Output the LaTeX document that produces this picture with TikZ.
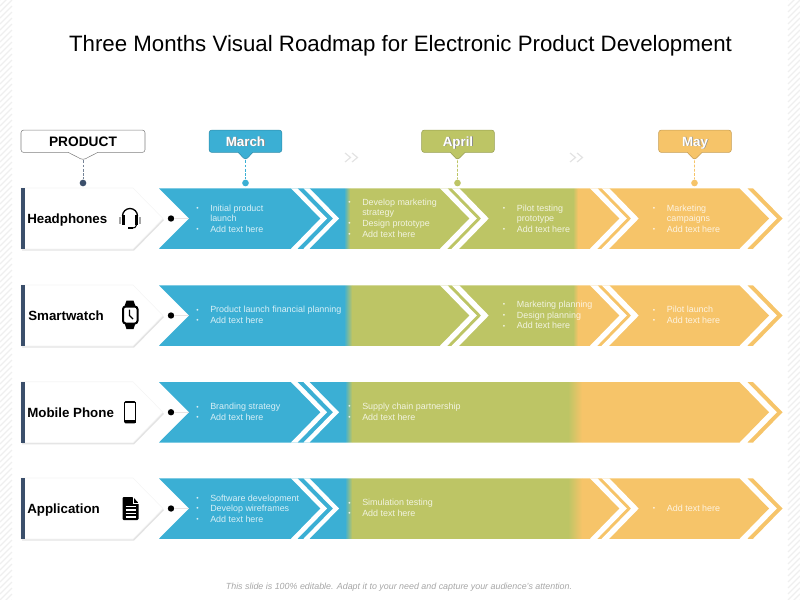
\documentclass[tikz,border=0pt]{standalone}
\usepackage{fontspec}
\setmainfont{Liberation Sans}
\usepackage{xcolor}
\usetikzlibrary{positioning,shapes.callouts,shadows,fadings}
\definecolor{bandblue}{HTML}{3BAFD4}
\definecolor{bandgreen}{HTML}{BDC565}
\definecolor{bandorange}{HTML}{F6C469}
\definecolor{barslate}{HTML}{3B4F6B}
\definecolor{hatchgray}{HTML}{EFEFEF}
\newcommand{\bul}{\makebox[10.5pt][l]{\raisebox{.6pt}{\fontsize{5}{5}\selectfont\textbullet}}}
\newcommand{\ind}{\hspace*{10.5pt}}
\newcommand{\mshadow}[1]{\rlap{\hspace{.7pt}\raisebox{-.7pt}{\color{black!45}#1}}#1}
\newcommand{\chevron}[5]{\fill[#5] (#1,#3-30.25) -- ++(#2,0) -- ++(29.5,30.25) -- ++(-29.5,30.25) -- ++(-#2,0) -- ++(29.5,-30.25) -- cycle;}
\begin{document}
\begin{tikzpicture}[x=0.75pt,y=-0.75pt,
  lst/.style={anchor=west,align=left,inner sep=0pt,text=white,text opacity=.8,font=\fontsize{6.7}{8}\selectfont},
  rowlabel/.style={anchor=base west,inner sep=0pt,font=\fontsize{10}{12}\selectfont\bfseries},
  tag/.style={rectangle callout,rounded corners=2pt,draw=#1!80!black,fill=#1,text=white,minimum width=54.5pt,minimum height=16.8pt,
              inner sep=0pt,text height=7.2pt,text depth=0pt,callout pointer width=11pt,font=\fontsize{10}{12}\selectfont\bfseries},
  tip/.style={circle,fill=#1,inner sep=0pt,minimum size=5pt},
  drop/.style={dashed,dash pattern=on 2pt off 1.2pt,line width=.7pt,#1}]
\useasboundingbox (0,0) rectangle (800,600);
\foreach \hy in {0,6,...,612} {
  \draw[hatchgray,line width=1pt] (0,\hy) -- (12,\hy-12);
  \draw[hatchgray,line width=1pt] (788,\hy) -- (800,\hy-12);
}
\node[inner sep=0pt,font=\fontsize{16.7}{18}\selectfont] (title) at (400.5,45.5) {Three Months Visual Roadmap for Electronic Product Development};
\foreach \rid/\my/\lbl/\lx/\ga/\gb/\oa/\ob in {%
  head/218.5/Headphones/27/344/350/573/578,
  watch/315.5/Smartwatch/28/344/352/573/578,
  phone/412.25/Mobile Phone/27/345/352/568/582,
  app/508.5/Application/27/345/352/568/582} {
  \fill[white,draw=gray!8,drop shadow={opacity=.22,shadow xshift=.8pt,shadow yshift=-1.2pt}]
    (21,\my-30.5) -- (133,\my-30.5) -- (163,\my) -- (133,\my+30.5) -- (21,\my+30.5) -- cycle;
  \fill[barslate] (21,\my-30.5) rectangle (25,\my+30.5);
  \node[rowlabel] (\rid lbl) at (\lx,\my+5) {\lbl};
  \begin{scope}
    \clip (159,\my-30.25) -- (739.5,\my-30.25) -- (769,\my) -- (739.5,\my+30.25) -- (159,\my+30.25) -- (189,\my) -- cycle;
    \fill[bandblue] (159,\my-31) rectangle (\ga,\my+31);
    \shade[left color=bandblue,right color=bandgreen] (\ga,\my-31) rectangle (\gb,\my+31);
    \fill[bandgreen] (\gb,\my-31) rectangle (\oa,\my+31);
    \shade[left color=bandgreen,right color=bandorange] (\oa,\my-31) rectangle (\ob,\my+31);
    \fill[bandorange] (\ob,\my-31) rectangle (770,\my+31);
  \end{scope}
  \chevron{747.5}{5.5}{\my}{}{bandorange}
  \node[circle,fill=black,inner sep=0pt,minimum size=4.8pt] (\rid dot) at (171,\my) {};
  \coordinate (\rid notch) at (189,\my);
  \draw[red!8!gray!20,line width=.8pt] (\rid dot) -- (\rid notch);
}
\foreach \my in {218.5,412.25,508.5} {
  \chevron{291}{6.5}{\my}{}{white}
  \chevron{303.5}{6}{\my}{}{white}
}
\foreach \my in {218.5,315.5} {
  \chevron{440}{7.3}{\my}{}{white}
  \chevron{451.7}{7.5}{\my}{}{white}
}
\foreach \my in {218.5,315.5,508.5} {
  \chevron{590}{7.3}{\my}{}{white}
  \chevron{601.7}{7.5}{\my}{}{white}
}
\node[rectangle callout,rounded corners=2pt,draw=black!50,fill=white,minimum width=93pt,minimum height=16.8pt,inner sep=0pt,text height=7.4pt,text depth=0pt,
  callout pointer width=22pt,callout absolute pointer={(83,160)},font=\fontsize{10.3}{12}\selectfont\bfseries] (product) at (83,141.25) {PRODUCT};
\node[tag=bandblue,callout absolute pointer={(245.5,160)}] (march) at (245.5,141.25) {\mshadow{March}};
\node[tag=bandgreen,callout absolute pointer={(457.5,160)}] (april) at (458,141.25) {\mshadow{April}};
\node[tag=bandorange,callout absolute pointer={(694.5,160)}] (may) at (695,141.25) {\mshadow{May}};
\node[tip=barslate] (productdot) at (83,183) {};
\node[tip=bandblue] (marchdot) at (245.5,183) {};
\node[tip=bandgreen] (aprildot) at (457.5,183) {};
\node[tip=bandorange] (maydot) at (694.5,183) {};
\draw[drop=barslate!70] (product.pointer) -- (productdot);
\draw[drop=bandblue] (march.pointer) -- (marchdot);
\draw[drop=bandgreen] (april.pointer) -- (aprildot);
\draw[drop=bandorange] (may.pointer) -- (maydot);
\foreach \ax in {345,352,570,577}
  \draw[gray!22,line width=.9pt] (\ax,153) -- (\ax+5.5,157.5) -- (\ax,162);
\node[lst] (h1) at (196,218.5) {\bul Initial product\\\ind launch\\\bul Add text here};
\node[lst] (h2) at (348,218) {\bul Develop marketing\\\ind strategy\\\bul Design prototype\\\bul Add text here};
\node[lst] (h3) at (502.7,218.5) {\bul Pilot testing\\\ind prototype\\\bul Add text here};
\node[lst] (h4) at (652.7,218.5) {\bul Marketing\\\ind campaigns\\\bul Add text here};
\node[lst] (w1) at (196,315) {\bul Product launch financial planning\\\bul Add text here};
\node[lst] (w2) at (502.7,315) {\bul Marketing planning\\\bul Design planning\\\bul Add text here};
\node[lst] (w3) at (652.7,315) {\bul Pilot launch\\\bul Add text here};
\node[lst] (p1) at (196,412) {\bul Branding strategy\\\bul Add text here};
\node[lst] (p2) at (348,411.5) {\bul Supply chain partnership\\\bul Add text here};
\node[lst] (a1) at (196,508.5) {\bul Software development\\\bul Develop wireframes\\\bul Add text here};
\node[lst] (a2) at (348,508) {\bul Simulation testing\\\bul Add text here};
\node[lst] (a3) at (652.7,508.5) {\bul Add text here};
\draw[line width=1pt] (122.5,216) arc[start angle=180,end angle=360,radius=7.5];
\fill (122,215) rectangle (125.2,225);
\fill (134.8,215) rectangle (138,225);
\fill[gray!70] (118.8,216.5) rectangle (121.2,223.5);
\fill[gray!70] (138.8,216.5) rectangle (141.2,223.5);
\draw[line width=.8pt] (136.5,225) .. controls (136.5,228) and (134,228) .. (131,228);
\fill (128,226.8) rectangle (132.5,229);
\fill (124.5,306) -- (126.5,300.7) -- (133.5,300.7) -- (135.5,306) -- cycle;
\fill (124.5,323) -- (126.5,329) -- (133.5,329) -- (135.5,323) -- cycle;
\draw[line width=1.5pt,fill=white,rounded corners=2pt] (123,306.5) rectangle (137.5,323.5);
\draw[line width=1pt] (129.5,309.5) -- (129.5,315.5) -- (133,319);
\draw[line width=.7pt,fill=white,rounded corners=1pt] (124.5,401.5) rectangle (135.5,423);
\fill (124.5,401.5) rectangle (135.5,403.3);
\fill (124.5,420.3) rectangle (135.5,423);
\fill[rounded corners=.8pt] (122.5,497) -- (133,497) -- (138.5,503) -- (138.5,520) -- (122.5,520) -- cycle;
\draw[white,line width=.5pt] (133,497) -- (133,503) -- (138.5,503);
\foreach \ly in {506.5,510,513.5,517}
  \draw[white,line width=.9pt] (125.5,\ly) -- (135.5,\ly);
\node[inner sep=0pt,text=gray!70,font=\fontsize{6.67}{8}\selectfont\itshape] (note) at (399,587) {This slide is 100\% editable. Adapt it to your need and capture your audience's attention.};
\end{tikzpicture}
\end{document}
